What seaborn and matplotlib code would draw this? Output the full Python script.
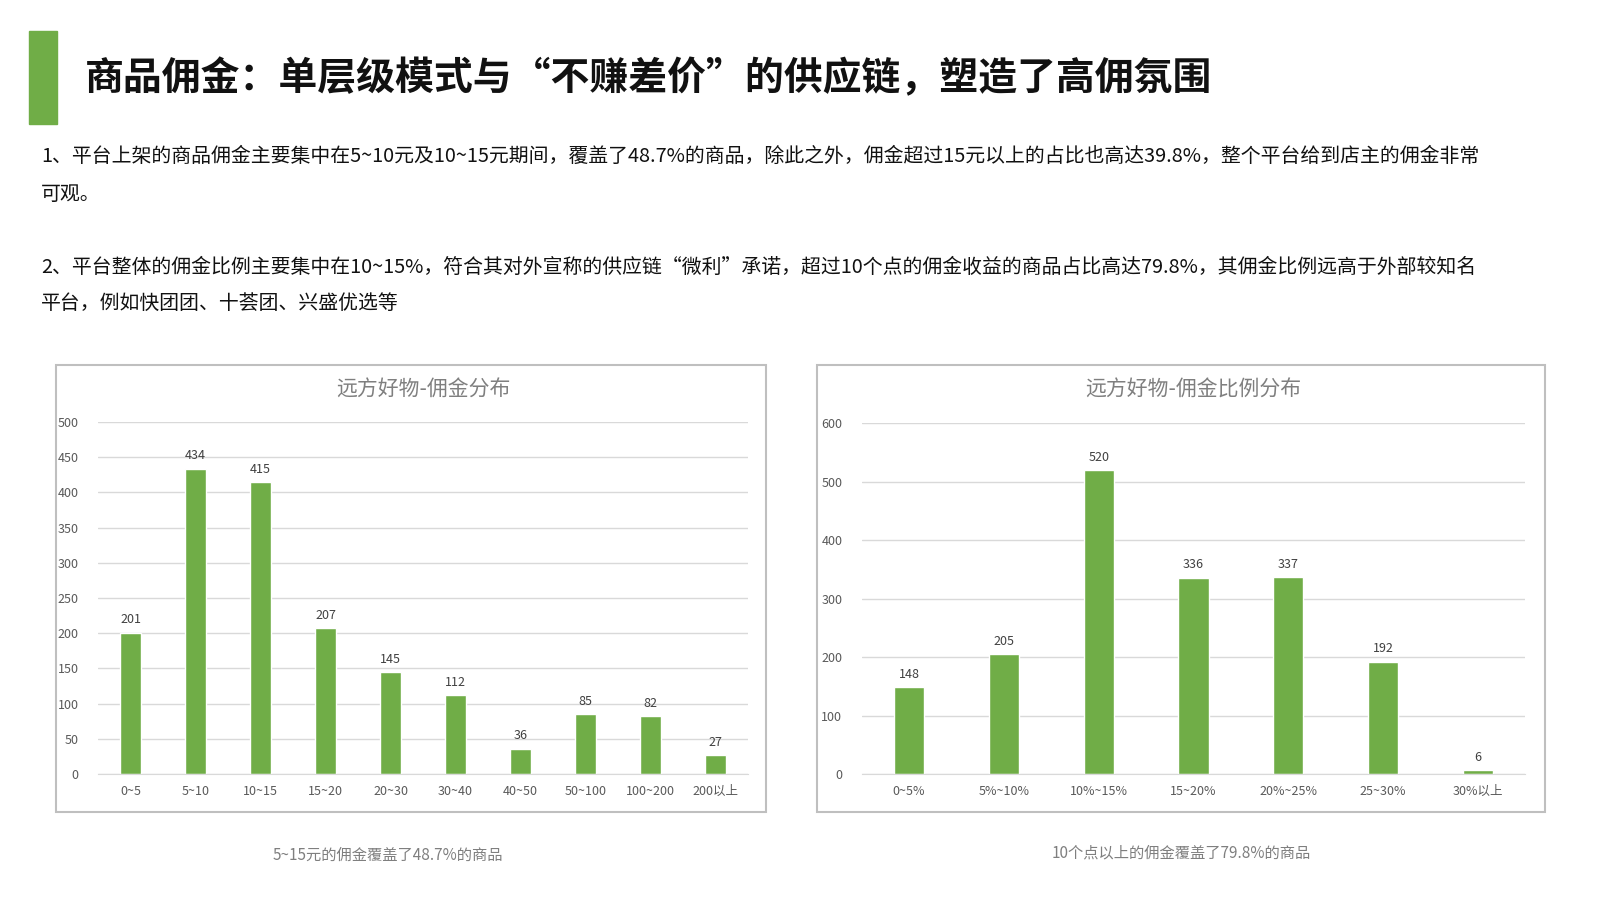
import matplotlib
matplotlib.use('Agg')
import matplotlib.pyplot as plt
import seaborn as sns
import pandas as pd
from matplotlib.patches import Rectangle

sns.set_style('white')
plt.rcParams['font.family'] = ['Noto Sans CJK SC', 'DejaVu Sans']

# 数据
amount_labels = ['0~5', '5~10', '10~15', '15~20', '20~30', '30~40', '40~50', '50~100', '100~200', '200以上']
amount_values = [201, 434, 415, 207, 145, 112, 36, 85, 82, 27]
ratio_labels = ['0~5%', '5%~10%', '10%~15%', '15~20%', '20%~25%', '25~30%', '30%以上']
ratio_values = [148, 205, 520, 336, 337, 192, 6]

GREEN = '#70AD47'
W, H = 1600, 900
S = 1.032  # 参考图的显示比例

fig = plt.figure(figsize=(16, 9), dpi=100)


def px(x, y):
    return x * S / W, 1 - y * S / H


# 标题
fig.add_artist(Rectangle(px(28, 120), 27 * S / W, 90 * S / H, transform=fig.transFigure, color=GREEN))
fig.text(*px(82, 76), '商品佣金：单层级模式与“不赚差价”的供应链，塑造了高佣氛围',
         fontsize=28, fontweight='bold', va='center', color='#111111')

body = [
    (152, '1、平台上架的商品佣金主要集中在5~10元及10~15元期间，覆盖了48.7%的商品，除此之外，佣金超过15元以上的占比也高达39.8%，整个平台给到店主的佣金非常'),
    (188, '可观。'),
    (259, '2、平台整体的佣金比例主要集中在10~15%，符合其对外宣称的供应链“微利”承诺，超过10个点的佣金收益的商品占比高达79.8%，其佣金比例远高于外部较知名'),
    (294, '平台，例如快团团、十荟团、兴盛优选等'),
]
for y, t in body:
    fig.text(*px(40, y), t, fontsize=14.3, va='center', color='#111111')

# 边框
for x0, x1 in [(54, 742), (792, 1497)]:
    fig.add_artist(Rectangle(px(x0, 787), (x1 - x0) * S / W, 433 * S / H, transform=fig.transFigure,
                             fill=False, edgecolor='#BFBFBF', linewidth=1.5))


def draw(box, labels, values, ymax, step, title, caption, cap_x, cap_y):
    x0, y0, x1, y1 = box
    l, b = px(x0, y1)
    rect = [l, b, (x1 - x0) * S / W, (y1 - y0) * S / H]
    ax = fig.add_axes(rect)
    df = pd.DataFrame({'cat': labels, 'val': values})
    sns.barplot(data=df, x='cat', y='val', ax=ax, color=GREEN, width=0.32, saturation=1)
    ax.set_ylim(0, ymax)
    ax.set_yticks(range(0, ymax + 1, step))
    ax.yaxis.grid(True, color='#D9D9D9', linewidth=1)
    ax.set_axisbelow(True)
    ax.set_xlabel('')
    ax.set_ylabel('')
    for s in ['top', 'right', 'left']:
        ax.spines[s].set_visible(False)
    ax.spines['bottom'].set_color('#D9D9D9')
    ax.tick_params(axis='both', labelsize=9, colors='#595959', length=0)
    ax.tick_params(axis='y', pad=14)
    ax.tick_params(axis='x', pad=8)
    for i, v in enumerate(values):
        ax.text(i, v + ymax * 0.018, str(v), ha='center', va='bottom', fontsize=9, color='#404040')
    fig.text(rect[0] + rect[2] / 2, px(0, 378)[1], title, ha='center', va='center',
             fontsize=15, color='#7F7F7F')
    fig.text(*px(cap_x, cap_y), caption, ha='center', va='center', fontsize=11, color='#7F7F7F')
    return ax


draw((95, 409, 725, 750), amount_labels, amount_values, 500, 50,
     '远方好物-佣金分布', '5~15元的佣金覆盖了48.7%的商品', 376, 829)
draw((835, 410, 1478, 750), ratio_labels, ratio_values, 600, 100,
     '远方好物-佣金比例分布', '10个点以上的佣金覆盖了79.8%的商品', 1145, 827)

fig.savefig('out.png', dpi=100, facecolor='white')
